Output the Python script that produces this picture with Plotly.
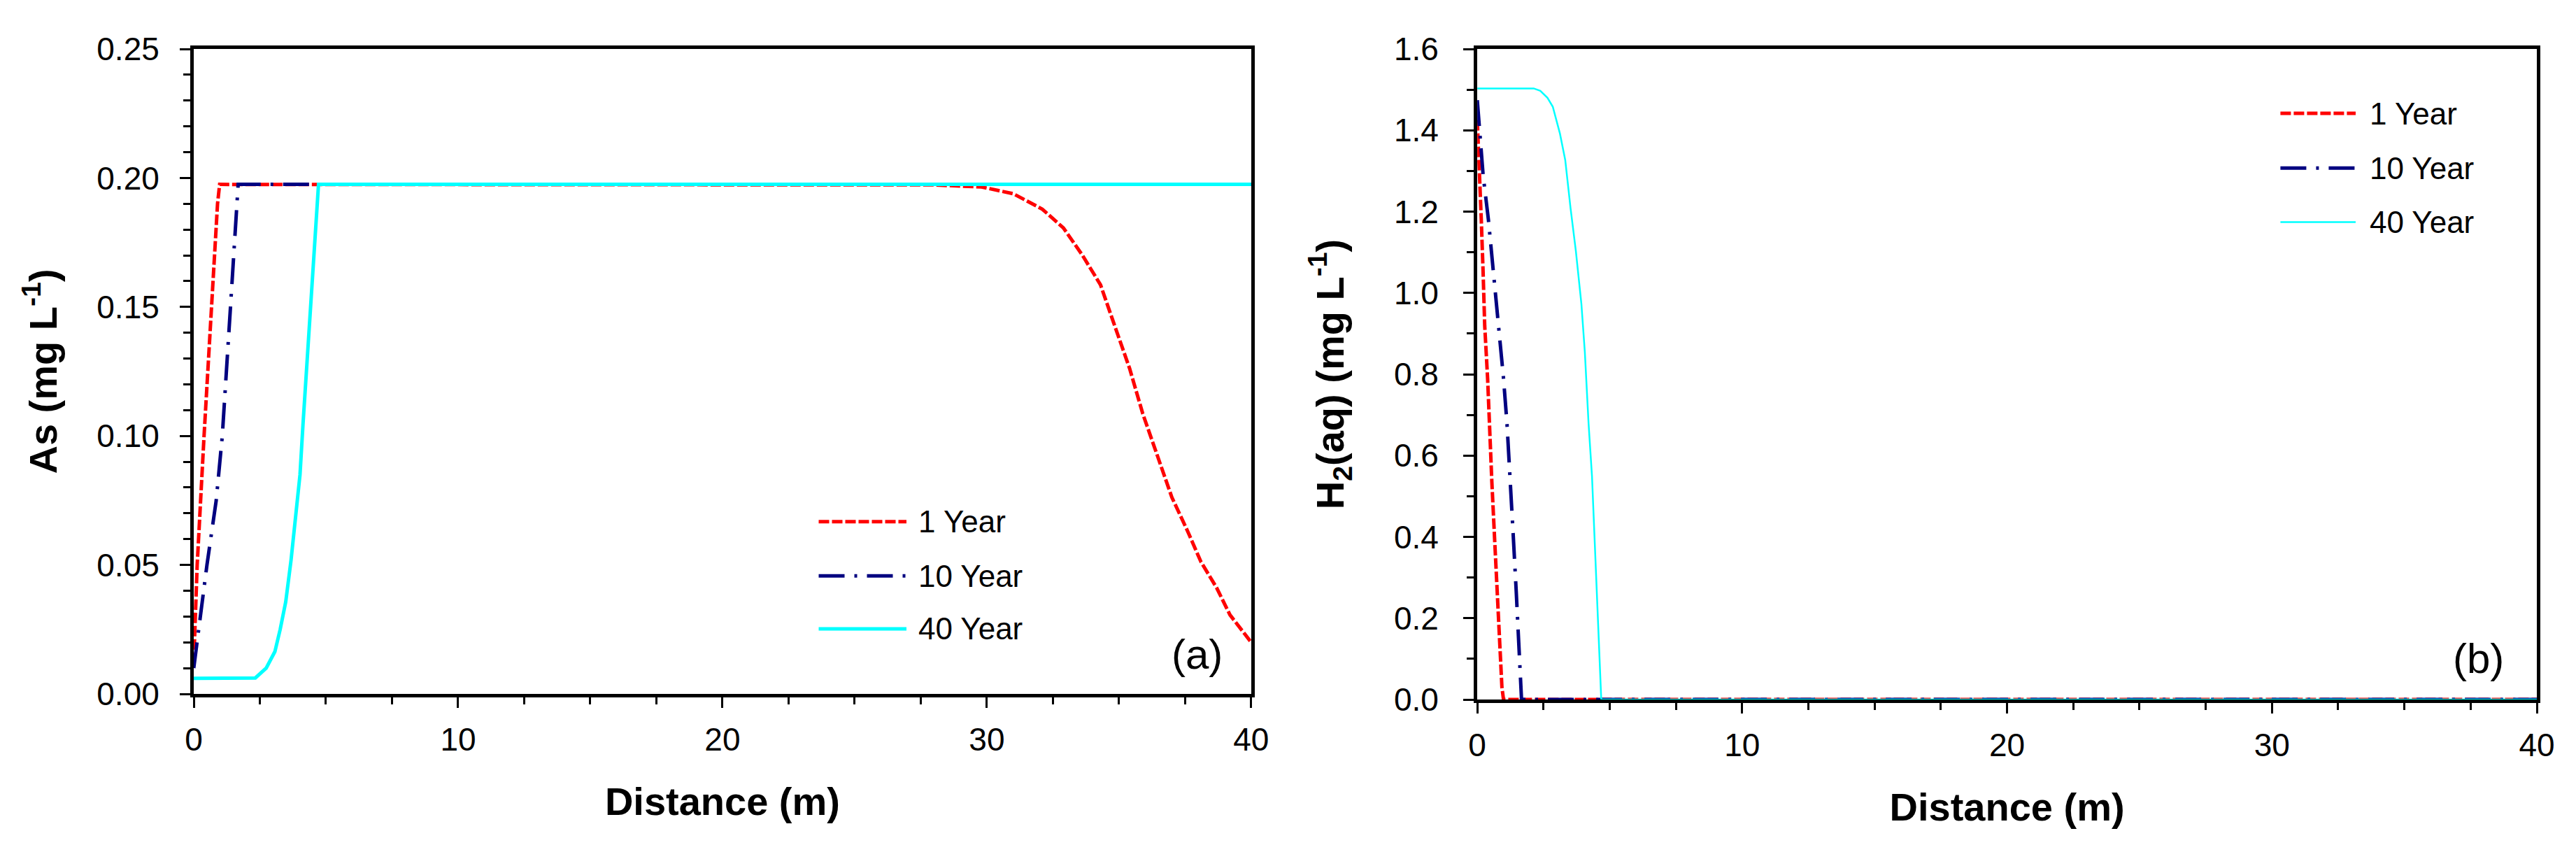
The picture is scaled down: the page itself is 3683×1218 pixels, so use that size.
import plotly.graph_objects as go

# panel (a): As concentration vs distance
as_1yr_x = [0, 0.13, 0.39, 0.67, 0.90, 0.98, 10, 20, 28, 29.8, 31.0, 32.1, 32.9, 33.6, 34.3,
            34.8, 35.4, 35.9, 36.5, 37.0, 37.6, 38.1, 38.7, 39.2, 40.0]
as_1yr_y = [0.012, 0.05, 0.10, 0.15, 0.19, 0.1975, 0.1975, 0.1975, 0.1973, 0.1965, 0.1939,
            0.1879, 0.1806, 0.1703, 0.1586, 0.1438, 0.1262, 0.1086, 0.0909, 0.0762, 0.0630,
            0.0512, 0.0410, 0.0306, 0.020]

as_10yr_x = [0, 0.24, 0.5, 0.85, 1.08, 1.39, 1.55, 1.68, 40]
as_10yr_y = [0.01, 0.03, 0.05, 0.075, 0.10, 0.15, 0.175, 0.1975, 0.1975]

as_40yr_x = [0, 2.2, 2.33, 2.74, 3.07, 3.27, 3.48, 3.68, 3.88, 4.02, 4.13, 4.44, 4.72, 40]
as_40yr_y = [0.006, 0.006, 0.0062, 0.010, 0.0164, 0.025, 0.0357, 0.0518, 0.070, 0.085,
             0.104, 0.153, 0.1975, 0.1975]

# panel (b): H2(aq) concentration vs distance
h2_1yr_x = [0, 0.08, 0.15, 0.22, 0.28, 0.39, 0.45, 0.55, 0.65, 0.76, 0.85, 0.93, 0.99, 40]
h2_1yr_y = [1.425, 1.313, 1.182, 1.051, 0.92, 0.789, 0.68, 0.535, 0.40, 0.266, 0.131, 0.03, 0.0, 0.0]

h2_10yr_x = [0, 0.08, 0.22, 0.42, 0.62, 0.82, 0.99, 1.12, 1.26, 1.36, 1.47, 1.57, 1.62, 1.67, 40]
h2_10yr_y = [1.474, 1.41, 1.29, 1.18, 1.05, 0.92, 0.79, 0.68, 0.535, 0.40, 0.266, 0.131, 0.044, 0.0, 0.0]

h2_40yr_x = [0, 2.13, 2.38, 2.65, 2.85, 3.12, 3.32, 3.52, 3.72, 3.93, 4.06, 4.2, 4.33, 4.47, 4.6, 4.68, 40]
h2_40yr_y = [1.503, 1.503, 1.497, 1.48, 1.458, 1.392, 1.327, 1.209, 1.104, 0.973, 0.855, 0.68,
             0.55, 0.34, 0.13, 0.0, 0.0]

labels = ["1 Year", "10 Year", "40 Year"]

FONT = "Liberation Sans, Arial, sans-serif"
RED_DASH = "15px,4px"
BLUE_DASH = "37px,14px,4px,14px"

styles = [dict(color="#ff0000", width=5, dash=RED_DASH),
          dict(color="#000080", width=5, dash=BLUE_DASH),
          dict(color="#00ffff", width=5, dash="solid")]
styles_b = [dict(color="#ff0000", width=5, dash=RED_DASH),
            dict(color="#000080", width=5, dash=BLUE_DASH),
            dict(color="#00ffff", width=2.5, dash="solid")]

fig = go.Figure()
for xs, ys, name, st in zip([as_1yr_x, as_10yr_x, as_40yr_x], [as_1yr_y, as_10yr_y, as_40yr_y],
                            labels, styles):
    fig.add_trace(go.Scatter(x=xs, y=ys, name=name, mode="lines", line=st,
                             xaxis="x", yaxis="y", cliponaxis=False, showlegend=False))
for xs, ys, name, st in zip([h2_1yr_x, h2_10yr_x, h2_40yr_x], [h2_1yr_y, h2_10yr_y, h2_40yr_y],
                            labels, styles_b):
    fig.add_trace(go.Scatter(x=xs, y=ys, name=name, mode="lines", line=st,
                             xaxis="x2", yaxis="y2", cliponaxis=False, showlegend=False))

axis_common = dict(showline=True, linecolor="black", linewidth=5, mirror=True,
                   ticks="outside", ticklen=15, tickwidth=3, tickcolor="black",
                   showgrid=False, zeroline=False,
                   tickfont=dict(family=FONT, size=46, color="black"))
title_font = dict(family=FONT, size=56, color="black")

xtitle = dict(text="<b>Distance (m)</b>", font=title_font, standoff=45)

fig.update_layout(
    width=3683, height=1218,
    margin=dict(l=269, r=64, t=62, b=226),
    paper_bgcolor="white", plot_bgcolor="white",
    showlegend=False,
    xaxis=dict(axis_common, domain=[0, 0.4513], range=[0, 40], dtick=10, anchor="y",
               ticklabelstandoff=6, title=xtitle,
               minor=dict(dtick=2.5, ticks="outside", ticklen=10, tickwidth=3, tickcolor="black")),
    yaxis=dict(axis_common, domain=[0.0086, 1], range=[0, 0.25], dtick=0.05, tickformat=".2f",
               anchor="x", ticklabelstandoff=20,
               title=dict(text="<b>As (mg L<sup>-1</sup>)</b>", font=title_font, standoff=40),
               minor=dict(dtick=0.01, ticks="outside", ticklen=10, tickwidth=3, tickcolor="black")),
    xaxis2=dict(axis_common, domain=[0.5478, 1], range=[0, 40], dtick=10, anchor="y2",
                ticklabelstandoff=6, title=xtitle, layer="below traces",
                minor=dict(dtick=2.5, ticks="outside", ticklen=10, tickwidth=3, tickcolor="black")),
    yaxis2=dict(axis_common, domain=[0, 1], range=[0, 1.6], dtick=0.2, tickformat=".1f",
                anchor="x2", ticklabelstandoff=26,
                title=dict(text="<b>H<sub>2</sub>(aq) (mg L<sup>-1</sup>)</b>", font=title_font,
                           standoff=55),
                minor=dict(dtick=0.1, ticks="outside", ticklen=10, tickwidth=3, tickcolor="black")),
)

# legends drawn inside each panel
legend_a = dict(xref="x domain", yref="y domain", x0=0.591, x1=0.674, tx=0.684, ys=[0.267, 0.183, 0.101])
legend_b = dict(xref="x2 domain", yref="y2 domain", x0=0.758, x1=0.829, tx=0.841, ys=[0.901, 0.817, 0.734])
for lg, sts in [(legend_a, styles), (legend_b, styles_b)]:
    for name, st, yy in zip(labels, sts, lg["ys"]):
        fig.add_shape(type="line", xref=lg["xref"], yref=lg["yref"], x0=lg["x0"], x1=lg["x1"],
                      y0=yy, y1=yy, line=st)
        fig.add_annotation(xref=lg["xref"], yref=lg["yref"], x=lg["tx"], y=yy, text=name,
                           showarrow=False, xanchor="left", yanchor="middle",
                           font=dict(family=FONT, size=44, color="black"))

fig.add_annotation(xref="x domain", yref="y domain", x=0.949, y=0.061, text="(a)", showarrow=False,
                   xanchor="center", yanchor="middle", font=dict(family=FONT, size=60, color="black"))
fig.add_annotation(xref="x2 domain", yref="y2 domain", x=0.945, y=0.063, text="(b)", showarrow=False,
                   xanchor="center", yanchor="middle", font=dict(family=FONT, size=60, color="black"))

fig.write_html("out.html")
